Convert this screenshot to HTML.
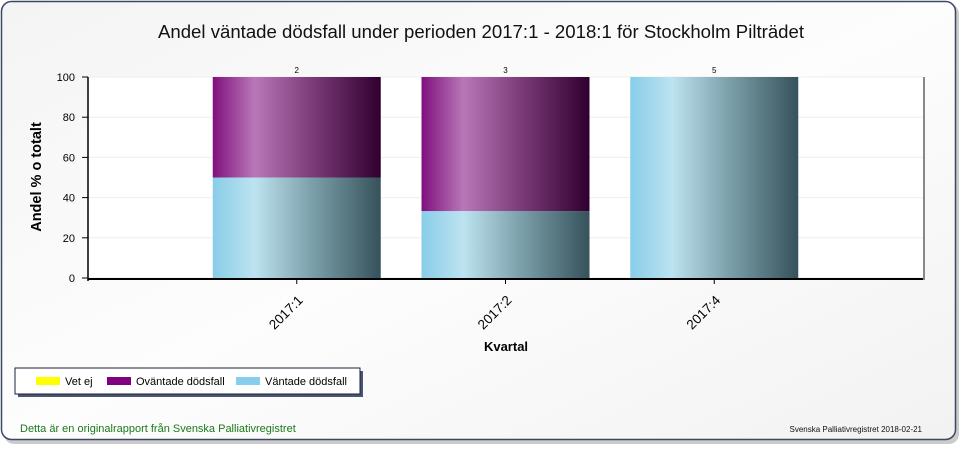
<!DOCTYPE html>
<html><head><meta charset="utf-8"><style>
body{margin:0;width:965px;height:450px;background:#fff;font-family:"Liberation Sans",sans-serif;overflow:hidden}
</style></head><body>
<svg width="965" height="450">
<defs>
<linearGradient id="bg" x1="0" y1="0" x2="1" y2="1"><stop offset="0" stop-color="#f4f4f4"/><stop offset="0.5" stop-color="#fdfdfd"/><stop offset="1" stop-color="#f2f2f2"/></linearGradient>
<linearGradient id="gP" x1="0" x2="1"><stop offset="0" stop-color="#80107e"/><stop offset="0.25" stop-color="#b878b8"/><stop offset="0.6" stop-color="#7a3a78"/><stop offset="1" stop-color="#30002e"/></linearGradient>
<linearGradient id="gB" x1="0" x2="1"><stop offset="0" stop-color="#88cde8"/><stop offset="0.25" stop-color="#bde3f0"/><stop offset="0.6" stop-color="#7a9ea8"/><stop offset="1" stop-color="#36525c"/></linearGradient>
<linearGradient id="gY" x1="0" x2="1"><stop offset="0" stop-color="#ffff00"/><stop offset="1" stop-color="#888800"/></linearGradient>
</defs>
<rect x="4" y="4" width="955" height="440" rx="10" fill="#999" opacity="0.5"/>
<rect x="1.5" y="1.5" width="954" height="438" rx="10" fill="url(#bg)" stroke="#3b4763" stroke-width="1.5"/>
<text x="481" y="38" text-anchor="middle" font-size="18.6" fill="#111">Andel väntade dödsfall under perioden 2017:1 - 2018:1 för Stockholm Pilträdet</text>
<rect x="88" y="77" width="835" height="201" fill="#fff"/>
<g id="grid"></g>
<g id="bars"></g>
<line x1="88" y1="77" x2="88" y2="281" stroke="#000" stroke-width="1.5"/>
<line x1="88" y1="279" x2="923" y2="279" stroke="#000" stroke-width="2"/>
<line x1="924" y1="77" x2="924" y2="280" stroke="#888" stroke-width="2"/>
<g id="axes"></g>
<text transform="translate(41,177) rotate(-90)" text-anchor="middle" font-size="14.5" font-weight="bold">Andel % o totalt</text>
<text x="506" y="351" text-anchor="middle" font-size="13" font-weight="bold">Kvartal</text>
<g>
<rect x="18" y="371" width="345" height="26" fill="#4a5670"/>
<rect x="15" y="368" width="345" height="26" fill="#fff" stroke="#1a2238"/>
<rect x="36" y="377" width="24" height="8" fill="#ffff00"/>
<text x="65" y="385" font-size="11">Vet ej</text>
<rect x="107" y="377" width="24" height="8" fill="#800080"/>
<text x="136" y="385" font-size="11">Oväntade dödsfall</text>
<rect x="236" y="377" width="24" height="8" fill="#87ceeb"/>
<text x="265" y="385" font-size="11">Väntade dödsfall</text>
</g>
<text x="20" y="432" font-size="11" fill="#1a7a1a">Detta är en originalrapport från Svenska Palliativregistret</text>
<text x="922" y="432" text-anchor="end" font-size="8" fill="#111">Svenska Palliativregistret 2018-02-21</text>
</svg>
<script>
const categories=["2017:1","2017:2","2017:4"];
const vantade=[50,33.3,100];
const ovantade=[50,66.7,0];
const vetej=[0,0,0];
const counts=["2","3","5"];
const yTicks=[0,20,40,60,80,100];
const NS="http://www.w3.org/2000/svg";
const X0=88,X1=923,Y0=278,Y1=77;
const slot=(X1-X0)/(categories.length+1);
const y=v=>Y0-(v/100)*(Y0-Y1);
const xc=i=>X0+slot*(i+1);
const bw=168;
function mk(t,a,p){const e=document.createElementNS(NS,t);for(const k in a)e.setAttribute(k,a[k]);p.appendChild(e);return e;}
const grid=document.getElementById('grid'),bars=document.getElementById('bars'),axes=document.getElementById('axes');
yTicks.forEach(v=>{
 const g=mk('line',{x1:X0,x2:X1,y1:y(v),y2:y(v),stroke:'#eee'},grid);
 
 
 const t=mk('line',{x1:X0-6,x2:X0,y1:y(v),y2:y(v),stroke:'#000'},axes);
 
 
 const l=mk('text',{x:X0-13,y:y(v)+4,'text-anchor':'end','font-size':11},axes);
 l.textContent=v;
 
 
});
categories.forEach((c,i)=>{
 const x=xc(i)-bw/2;let base=0;
 [[vantade,'url(#gB)','bar-vantade'],[ovantade,'url(#gP)','bar-ovantade'],[vetej,'url(#gY)','bar-vet-ej']].forEach(([arr,f,n])=>{
  const v=arr[i];if(v>0){
   const r=mk('rect',{x:x,y:y(base+v),width:bw,height:y(base)-y(base+v),fill:f},bars);
   
   
  }
  base+=v;
 });
 const lbl=mk('text',{x:xc(i),y:Y1-4,'text-anchor':'middle','font-size':8},bars);
 lbl.textContent=counts[i];
 
 
 const t=mk('line',{x1:xc(i),x2:xc(i),y1:Y0,y2:Y0+6,stroke:'#000'},axes);
 
 
 const xl=mk('text',{transform:`translate(${xc(i)+7},${Y0+23}) rotate(-45)`,'text-anchor':'end','font-size':13.5},axes);
 xl.textContent=c;
 
 
});
</script>
</body></html>
